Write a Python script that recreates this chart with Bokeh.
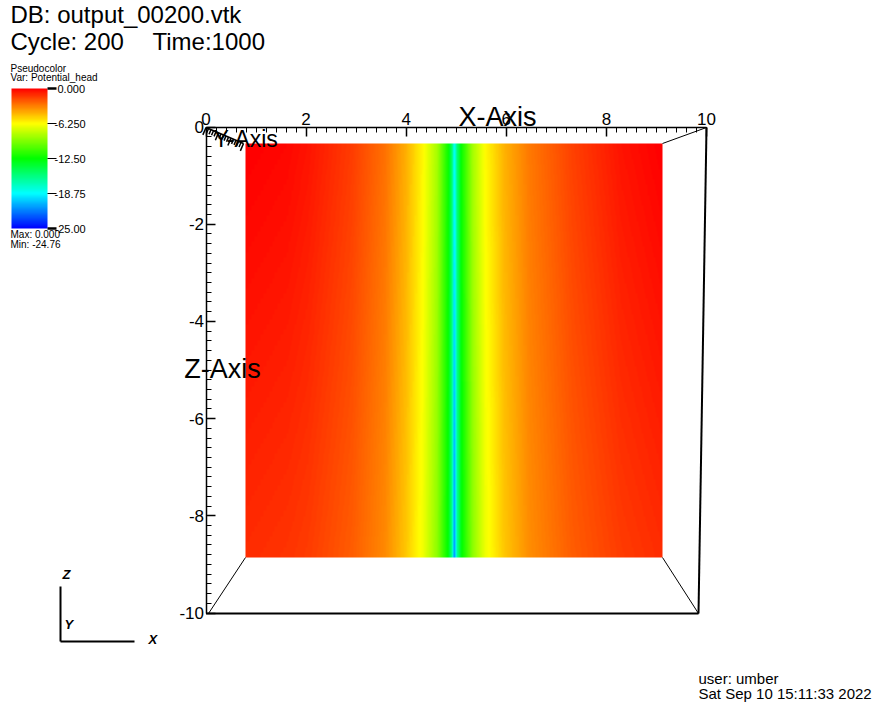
import numpy as np
from bokeh.plotting import figure
from bokeh.models import Range1d, LinearAxis, FixedTicker, Label, LinearColorMapper
from bokeh.embed import file_html
from bokeh.resources import INLINE

# ---------------- data ----------------
db_name = "output_00200.vtk"
cycle_value = 200
time_value = 1000
plot_type = "Pseudocolor"
var_name = "Potential_head"

x_ticks = [0, 2, 4, 6, 8, 10]
x_tick_labels = ["0", "2", "4", "6", "8", "10"]
z_ticks = [0, -2, -4, -6, -8, -10]
z_tick_labels = ["0", "-2", "-4", "-6", "-8", "-10"]

legend_ticks = [0.0, -6.25, -12.5, -18.75, -25.0]
legend_tick_labels = ["0.000", "-6.250", "-12.50", "-18.75", "-25.00"]
head_max = "0.000"
head_min = "-24.76"

# potential head read along the slice (x position in model units)
sample_x = [0.0, 1.0, 1.5, 2.55, 3.35, 3.85, 4.25, 4.6, 4.87, 4.96, 5.01,
            5.07, 5.18, 5.45, 5.75, 6.2, 6.8, 7.85, 9.0, 10.0]
head_top_row = [0.0, -0.2, -0.5, -1.5, -2.8, -4.3, -6.1, -8.5, -12.4, -15.5, -19.0,
                -15.5, -12.3, -8.5, -6.2, -4.4, -3.0, -1.6, -0.5, 0.0]
head_bottom_row = [-1.1, -1.3, -1.5, -2.3, -3.4, -4.9, -6.6, -9.1, -12.8, -16.5, -22.0,
                   -16.5, -12.7, -9.1, -6.7, -4.9, -3.5, -2.3, -1.5, -1.1]

user_name = "umber"
date_text = "Sat Sep 10 15:11:33 2022"

# ---------------- layout helpers (screen px -> model units) ----------------
W, H = 877, 702
OFF = 0
SX0, SX1 = 205.5, 706.0    # screen x of x=0 and x=10 on the front face
SZ0, SZ1 = 126.5, 612.5    # screen y of z=0 and z=-10 on the front face


def dx(sx):
    return (sx - SX0) / (SX1 - SX0) * 10.0


def dz(sy):
    return -(sy - SZ0) / (SZ1 - SZ0) * 10.0


p = figure(width=W, height=H, x_range=Range1d(dx(OFF), dx(OFF + W)), y_range=Range1d(dz(OFF + H), dz(OFF)),
           x_axis_location=None, y_axis_location=None, toolbar_location=None,
           output_backend="svg", min_border=0, outline_line_color=None,
           background_fill_color="white", border_fill_color="white")
p.grid.visible = False

# ---------------- colour map (VisIt "hot") ----------------
ctrl = np.array([[0, 0, 255], [0, 255, 255], [0, 255, 0], [255, 255, 0], [255, 0, 0]], float)
cpos = np.linspace(0, 1, len(ctrl))
palette = []
for f in np.linspace(0, 1, 256):
    rgb = [int(round(np.interp(f, cpos, ctrl[:, k]))) for k in range(3)]
    palette.append("#%02x%02x%02x" % tuple(rgb))
LOW, HIGH = -25.0, 0.0
mapper = LinearColorMapper(palette=palette, low=LOW, high=HIGH)

# ---------------- pseudocolor slice (back plane) ----------------
BACK_L, BACK_R = dx(245), dx(662)
BACK_T, BACK_B = dz(143), dz(557)
nx, nz = 1400, 80
xs = np.linspace(0, 10, nx)
top = np.interp(xs, sample_x, head_top_row)
bot = np.interp(xs, sample_x, head_bottom_row)
t = np.linspace(1, 0, nz)[:, None]
field = top[None, :] + (bot - top)[None, :] * t
p.image(image=[field], x=BACK_L, y=BACK_B, dw=BACK_R - BACK_L, dh=BACK_T - BACK_B, color_mapper=mapper)

# ---------------- box edges ----------------
edge_x0 = [dx(706), dx(208), dx(698), dx(205.5), dx(706)]
edge_y0 = [dz(127), dz(613), dz(613), dz(613), dz(127)]
edge_x1 = [dx(662), dx(245), dx(662), dx(698), dx(698)]
edge_y1 = [dz(143), dz(557), dz(557), dz(613), dz(613)]
edge_w = [1, 1, 1, 2, 2]
p.segment(x0=edge_x0, y0=edge_y0, x1=edge_x1, y1=edge_y1, line_color="black", line_width=edge_w)

# Y axis (receding) with dense ticks
ya0 = np.array([205.5, 127.0])
ya1 = np.array([243.0, 143.0])
p.segment(x0=[dx(ya0[0])], y0=[dz(ya0[1])], x1=[dx(ya1[0])], y1=[dz(ya1[1])], line_color="black", line_width=1.5)
dvec = (ya1 - ya0) / np.linalg.norm(ya1 - ya0)
nvec = np.array([dvec[1], -dvec[0]])
tx0, ty0, tx1, ty1 = [], [], [], []
for k, s in enumerate(np.linspace(0, 1, 16)):
    base = ya0 + (ya1 - ya0) * s
    ln = 8 if k % 5 == 0 else 5
    tip = base - nvec * ln
    tx0.append(dx(base[0])); ty0.append(dz(base[1]))
    tx1.append(dx(tip[0])); ty1.append(dz(tip[1]))
p.segment(x0=tx0, y0=ty0, x1=tx1, y1=ty1, line_color="black", line_width=1.5)

# ---------------- axes ----------------
FONT = "Liberation Sans"
minor_x = [round(v, 1) for v in np.arange(0, 10.001, 0.2)]
minor_z = [round(-v, 1) for v in np.arange(0, 10.001, 0.2)]

xa = LinearAxis(fixed_location=0, bounds=(0, 10),
                ticker=FixedTicker(ticks=x_ticks, minor_ticks=minor_x),
                major_label_overrides={float(v): s for v, s in zip(x_ticks, x_tick_labels)})
za = LinearAxis(fixed_location=0, bounds=(-10, 0),
                ticker=FixedTicker(ticks=z_ticks, minor_ticks=minor_z),
                major_label_overrides={float(v): s for v, s in zip(z_ticks, z_tick_labels)})
for ax in (xa, za):
    ax.axis_line_color = "black"
    ax.axis_line_width = 1.5
    ax.major_tick_in = 9
    ax.major_tick_out = 0
    ax.minor_tick_in = 5
    ax.minor_tick_out = 0
    ax.major_tick_line_color = "black"
    ax.major_tick_line_width = 1.5
    ax.minor_tick_line_color = "black"
    ax.minor_tick_line_width = 1
    ax.major_label_text_font = FONT
    ax.major_label_text_font_size = "17px"
    ax.major_label_text_color = "black"
    ax.major_label_standoff = 2
p.add_layout(xa, "above")
p.add_layout(za, "left")


def add_text(txt, sx, sy, size, align="left", baseline="alphabetic", style="normal", font=FONT):
    if baseline == "alphabetic":
        sy = sy - 0.3 * size
    p.add_layout(Label(x=dx(sx), y=dz(sy), text=txt, text_font_size=f"{size}px", text_align=align,
                       text_baseline=baseline, text_font_style=style, text_font=font, text_color="black"))


# axis titles
add_text("X-Axis", 497, 125, 27, align="center")
add_text("Z-Axis", 222, 377, 27, align="center")
add_text("Y-Axis", 213, 145, 23)

# header / footer
add_text("DB: " + db_name, 10, 21, 24)
add_text("Cycle: %d" % cycle_value, 10, 48, 24)
add_text("Time:%d" % time_value, 152, 48, 24)
add_text("user: " + user_name, 698, 682, 15)
add_text(date_text, 698, 697, 15)

# legend header / footer
add_text(plot_type, 10, 71, 10)
add_text("Var: " + var_name, 10, 80, 10)
add_text("Max: " + head_max, 10, 237, 10)
add_text("Min: " + head_min, 10, 247, 10)

# legend colour bar
CB_L, CB_R, CB_T, CB_B = 11, 47, 88, 228
bar_vals = np.linspace(LOW, HIGH, 256)[:, None]
p.image(image=[bar_vals], x=dx(CB_L), y=dz(CB_B), dw=dx(CB_R) - dx(CB_L), dh=dz(CB_T) - dz(CB_B),
        color_mapper=mapper)


def cb_y(v):
    return CB_T + (HIGH - v) / (HIGH - LOW) * (CB_B - CB_T)


p.segment(x0=[dx(CB_R)] * len(legend_ticks), y0=[dz(cb_y(v)) for v in legend_ticks],
          x1=[dx(CB_R + 9)] * len(legend_ticks), y1=[dz(cb_y(v)) for v in legend_ticks],
          line_color="black", line_width=[2.5, 1.2, 1.2, 1.2, 2.5])
for v, s in zip(legend_ticks, legend_tick_labels):
    add_text(s, CB_R + 10 if not s.startswith("-") else CB_R + 7, cb_y(v), 11, baseline="middle")

# triad
p.segment(x0=[dx(60), dx(60)], y0=[dz(586), dz(641)], x1=[dx(60), dx(134)], y1=[dz(641), dz(641)],
          line_color="black", line_width=2)
add_text("Z", 62, 578, 13, style="bold italic")
add_text("Y", 64, 628, 13, style="bold italic")
add_text("X", 148, 643, 13, style="bold italic")

open("out.html", "w").write(file_html(p, INLINE))
